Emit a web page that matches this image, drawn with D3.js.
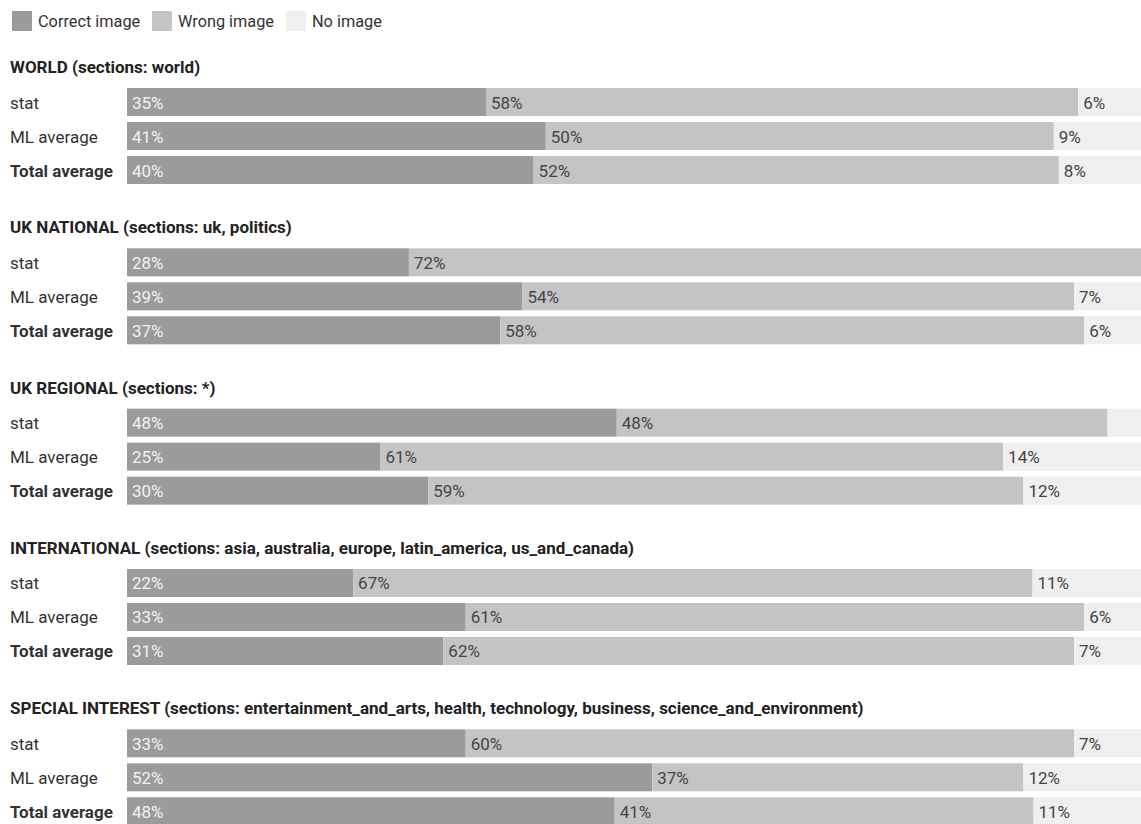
<!DOCTYPE html>
<html>
<head>
<meta charset="utf-8">
<script src="https://cdn.jsdelivr.net/npm/d3@7"></script>
<style>
  html, body { margin: 0; padding: 0; background: #fff; }
  svg { display: block; font-family: Roboto, "Noto Sans", sans-serif; }
</style>
</head>
<body>
<svg id="chart" width="1141" height="824"></svg>
<script>
// ---- data ----
const sections = ["WORLD", "UK NATIONAL", "UK REGIONAL", "INTERNATIONAL", "SPECIAL INTEREST"];
const sectionNotes = [
  "world",
  "uk, politics",
  "*",
  "asia, australia, europe, latin_america, us_and_canada",
  "entertainment_and_arts, health, technology, business, science_and_environment"
];
const rowLabels = ["stat", "ML average", "Total average"];
const seriesNames = ["Correct image", "Wrong image", "No image"];
// percentages per section, per row (stat, ML average, Total average)
const correctImage = [[35.4, 41.3, 40.1], [27.8, 39.0, 36.8], [48.3, 25.0, 29.7], [22.3, 33.4, 31.2], [33.4, 51.8, 48.1]];
const wrongImage   = [[58.4, 50.1, 51.8], [72.2, 54.4, 57.6], [48.4, 61.4, 58.7], [67.0, 61.0, 62.2], [60.0, 36.6, 41.3]];
const noImage      = [[6.2, 8.6, 8.1],    [0.0, 6.6, 5.6],    [3.3, 13.6, 11.6],  [10.7, 5.6, 6.6],   [6.6, 11.6, 10.6]];

// ---- drawing ----
const svg = d3.select("#chart");
const colors = d3.scaleOrdinal().domain(seriesNames).range(["#9b9b9b", "#c4c4c4", "#efefef"]);
const labelColors = d3.scaleOrdinal().domain(seriesNames).range(["#f2f2f2", "#444", "#444"]);

const x = d3.scaleLinear().domain([0, 100]).range([127, 1141]);
const sectionY = d3.scaleLinear().domain([0, sections.length - 1]).range([88, 729.3]);
const rowY = d3.scaleBand().domain(rowLabels).range([0, 96]).paddingInner(6 / 34).paddingOuter(0);

// legend
const legend = svg.append("g").attr("class", "legend");
const legendX = [12, 152, 286];
seriesNames.forEach((name, i) => {
  const g = legend.append("g").attr("transform", `translate(${legendX[i]},0)`);
  g.append("rect").attr("x", 0).attr("y", 11).attr("width", 20).attr("height", 20).attr("fill", colors(name));
  g.append("text").attr("x", 26).attr("y", 27).attr("font-size", 16.3).attr("fill", "#333").text(name);
});

const stack = d3.stack().keys(seriesNames);

sections.forEach((sec, si) => {
  const top = sectionY(si);
  const g = svg.append("g").attr("transform", `translate(0,${top})`);
  g.append("text")
    .attr("x", 10).attr("y", -15)
    .attr("font-size", 17).attr("font-weight", 700).attr("fill", "#222")
    .text(`${sec} (sections: ${sectionNotes[si]})`);

  const rows = rowLabels.map((r, ri) => ({
    row: r,
    "Correct image": correctImage[si][ri],
    "Wrong image": wrongImage[si][ri],
    "No image": noImage[si][ri]
  }));
  const stacked = stack(rows);

  // row labels
  g.selectAll("text.row").data(rowLabels).join("text")
    .attr("class", "row")
    .attr("x", 10)
    .attr("y", d => rowY(d) + rowY.bandwidth() / 2 + 6.5)
    .attr("font-size", 17)
    .attr("font-weight", d => d === "Total average" ? 700 : 400)
    .attr("fill", "#333")
    .text(d => d);

  stacked.forEach(layer => {
    const name = layer.key;
    const lg = g.append("g");
    lg.selectAll("rect").data(layer).join("rect")
      .attr("x", d => x(d[0]))
      .attr("y", d => rowY(d.data.row))
      .attr("width", d => Math.max(0, x(d[1]) - x(d[0])))
      .attr("height", rowY.bandwidth())
      .attr("fill", colors(name));
    lg.selectAll("text").data(layer.filter(d => d[1] - d[0] >= 4)).join("text")
      .attr("x", d => x(d[0]) + 5)
      .attr("y", d => rowY(d.data.row) + rowY.bandwidth() / 2 + 6.5)
      .attr("font-size", 17)
      .attr("fill", labelColors(name))
      .text(d => Math.round(d[1] - d[0]) + "%");
  });
});
</script>
</body>
</html>
